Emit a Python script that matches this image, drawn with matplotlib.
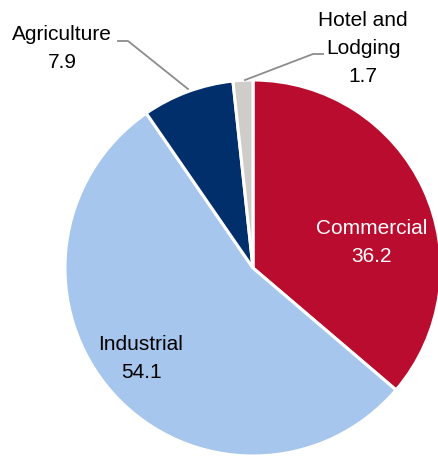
import matplotlib.pyplot as plt

# Share of consumption by sector (%)
sectors = ["Commercial", "Industrial", "Agriculture", "Hotel and\nLodging"]
values = [36.2, 54.1, 7.9, 1.7]
colors = ["#BA0C2F", "#A7C6ED", "#002F6C", "#CFCDC9"]
explode = [0.03, 0.02, 0.03, 0.0]

plt.rcParams["font.family"] = ["Liberation Sans", "DejaVu Sans"]

fig = plt.figure(figsize=(4.38, 4.57), dpi=100)
ax = fig.add_axes([0, 0, 1, 1])

# work in pixel units so the pie sits where it does in the original
ax.pie(values, colors=colors, startangle=90, counterclock=False,
       explode=explode, center=(253, 189), radius=188,
       wedgeprops=dict(edgecolor="white", linewidth=2.2))
ax.set_xlim(0, 438)
ax.set_ylim(0, 457)
ax.set_aspect("equal")
ax.axis("off")

fs = 15
ls = 1.6
ax.text(372, 457 - 242, f"{sectors[0]}\n{values[0]}", color="white",
        fontsize=fs, ha="center", va="center", linespacing=ls)
ax.text(141, 457 - 359, f"{sectors[1]}\n{values[1]}", color="black",
        fontsize=fs, ha="center", va="center", linespacing=ls)
ax.text(62, 457 - 48, f"{sectors[2]}\n{values[2]}", color="black",
        fontsize=fs, ha="center", va="center", linespacing=ls)
ax.text(363, 457 - 49, f"{sectors[3]}\n{values[3]}", color="black",
        fontsize=fs, ha="center", va="center", linespacing=ls)

# leader lines
ax.plot([118, 128, 188], [457 - 41, 457 - 41, 457 - 89], color="#8C8C8C", lw=1.3)
ax.plot([245, 313, 323], [457 - 80, 457 - 54, 457 - 54], color="#8C8C8C", lw=1.3)

plt.savefig("out.png", dpi=100)
